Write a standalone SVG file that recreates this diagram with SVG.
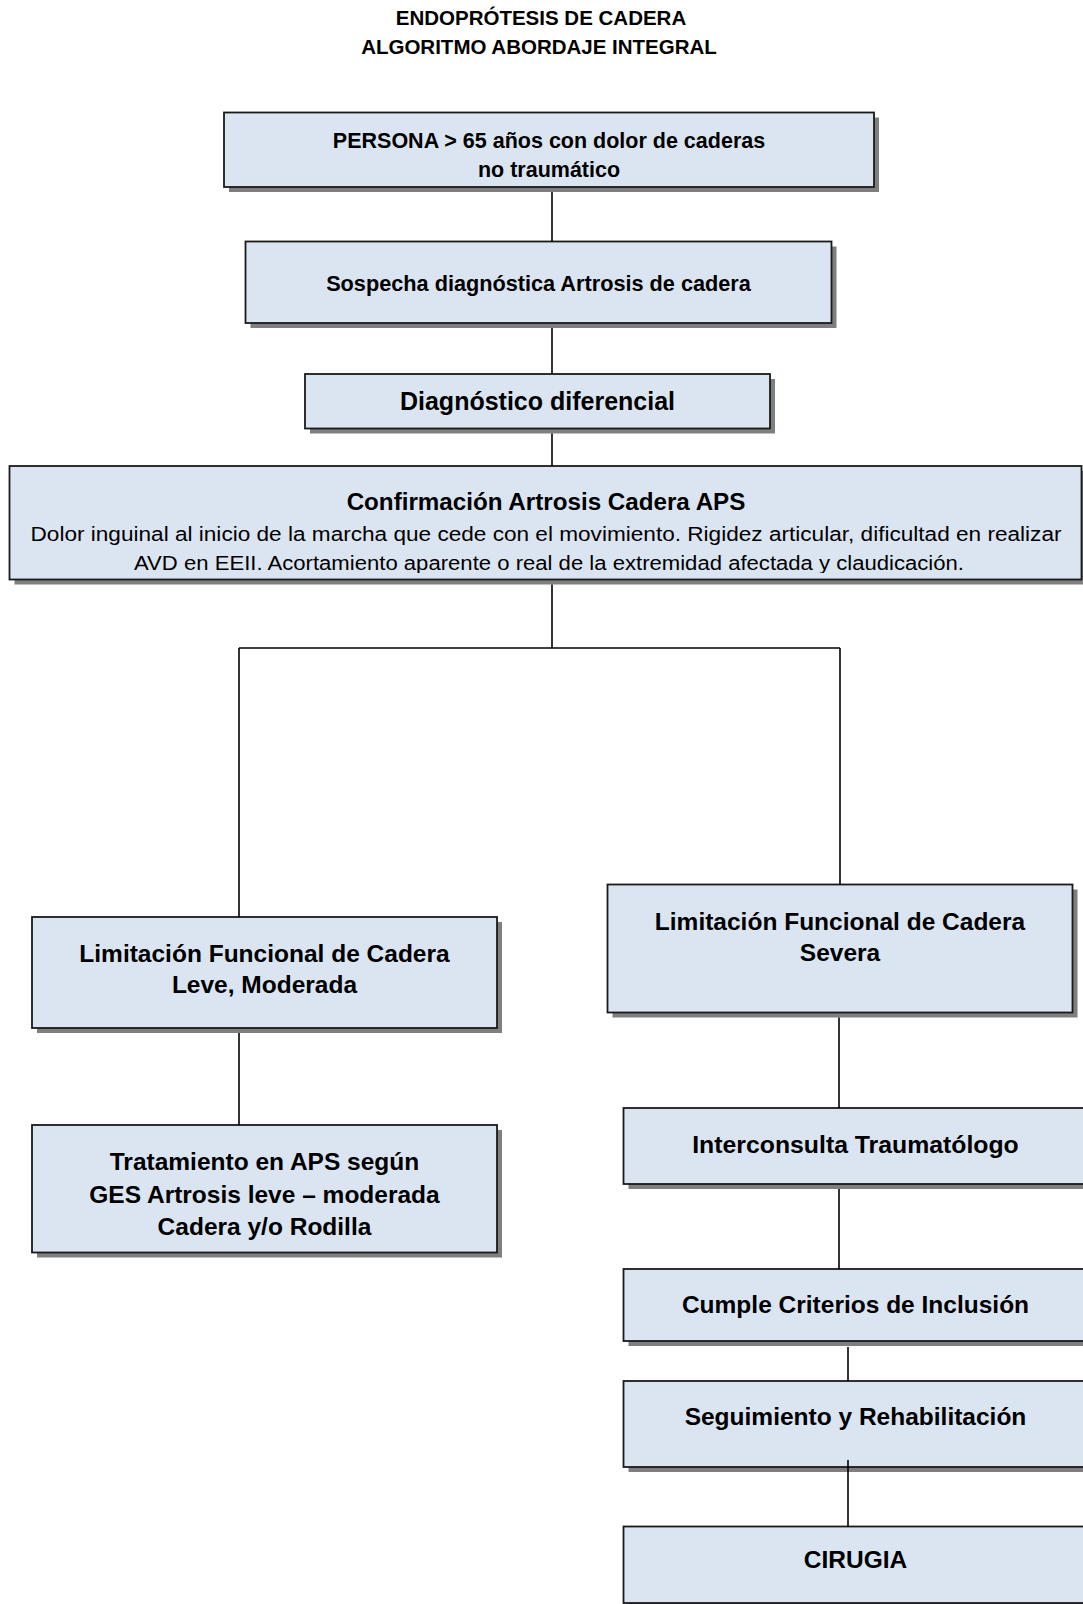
<svg xmlns="http://www.w3.org/2000/svg" width="1083" height="1604" viewBox="0 0 1083 1604">
<style>
.box{fill:#dbe5f1;stroke:#1a1a1a;stroke-width:1.8}
.shadow{fill:#7f7f7f}
.t{font-family:"Liberation Sans",Arial,sans-serif;font-weight:bold;text-anchor:middle;fill:#000}
.r{font-family:"Liberation Sans",Arial,sans-serif;font-weight:normal;text-anchor:middle;fill:#000}
.conn line{stroke:#000;stroke-width:1.6}
</style>
<defs>
<clipPath id="clip4"><rect x="10" y="467" width="1072" height="106"/></clipPath>
</defs>
<rect width="1083" height="1604" fill="#fff"/>
<g id="title">
<text class="t" x="541" y="25" font-size="20.5">ENDOPRÓTESIS DE CADERA</text>
<text class="t" x="539" y="54" font-size="20.5">ALGORITMO ABORDAJE INTEGRAL</text>
</g>
<g id="n1">
<rect class="shadow" x="229" y="117.5" width="650" height="74.5"/>
<rect class="box" x="224" y="112.5" width="650" height="74.5"/>
<text class="t" x="549" y="148" font-size="21.5">PERSONA &gt; 65 años con dolor de caderas</text>
<text class="t" x="549" y="177" font-size="21.5">no traumático</text>
</g>
<g id="n2">
<rect class="shadow" x="250.5" y="246.5" width="586" height="81.5"/>
<rect class="box" x="245.5" y="241.5" width="586" height="81.5"/>
<text class="t" x="538.5" y="291" font-size="21.7">Sospecha diagnóstica Artrosis de cadera</text>
</g>
<g id="n3">
<rect class="shadow" x="310" y="379" width="465" height="54.5"/>
<rect class="box" x="305" y="374" width="465" height="54.5"/>
<text class="t" x="537.5" y="410" font-size="25">Diagnóstico diferencial</text>
</g>
<g id="n4">
<rect class="shadow" x="14.5" y="471" width="1075" height="113.5"/>
<rect class="box" x="9.5" y="466" width="1072" height="113.5"/>
<text class="t" x="546" y="510" font-size="24.2">Confirmación Artrosis Cadera APS</text>
<g clip-path="url(#clip4)">
<text class="r" x="546" y="541" font-size="20" textLength="1031" lengthAdjust="spacingAndGlyphs">Dolor inguinal al inicio de la marcha que cede con el movimiento. Rigidez articular, dificultad en realizar</text>
<text class="r" x="549" y="570" font-size="20" textLength="830" lengthAdjust="spacingAndGlyphs">AVD en EEII. Acortamiento aparente o real de la extremidad afectada y claudicación.</text>
</g>
</g>
<g id="nA">
<rect class="shadow" x="37" y="922" width="465" height="111"/>
<rect class="box" x="32" y="917" width="465" height="111"/>
<text class="t" x="264.5" y="962" font-size="24.5">Limitación Funcional de Cadera</text>
<text class="t" x="264.5" y="993" font-size="24.5">Leve, Moderada</text>
</g>
<g id="nB">
<rect class="shadow" x="37" y="1130" width="465" height="127.5"/>
<rect class="box" x="32" y="1125" width="465" height="127.5"/>
<text class="t" x="264.5" y="1170" font-size="24.5">Tratamiento en APS según</text>
<text class="t" x="264.5" y="1203" font-size="24.5">GES Artrosis leve – moderada</text>
<text class="t" x="264.5" y="1235" font-size="24.5">Cadera y/o Rodilla</text>
</g>
<g id="nC">
<rect class="shadow" x="612.5" y="889.5" width="465" height="128"/>
<rect class="box" x="607.5" y="884.5" width="465" height="128"/>
<text class="t" x="840" y="930" font-size="24.5">Limitación Funcional de Cadera</text>
<text class="t" x="840" y="961" font-size="24.5">Severa</text>
</g>
<g id="nD">
<rect class="shadow" x="628.5" y="1113" width="465" height="76"/>
<rect class="box" x="623.5" y="1108" width="465" height="76"/>
<text class="t" x="855.5" y="1153" font-size="24.8">Interconsulta Traumatólogo</text>
</g>
<g id="nE">
<rect class="shadow" x="628.5" y="1274" width="465" height="72"/>
<rect class="box" x="623.5" y="1269" width="465" height="72"/>
<text class="t" x="855.5" y="1313" font-size="24.5">Cumple Criterios de Inclusión</text>
</g>
<g id="nF">
<rect class="shadow" x="628.5" y="1386" width="465" height="86"/>
<rect class="box" x="623.5" y="1381" width="465" height="86"/>
<text class="t" x="855.5" y="1425" font-size="24.5">Seguimiento y Rehabilitación</text>
</g>
<g id="nG">
<rect class="shadow" x="628.5" y="1531.5" width="465" height="76.5"/>
<rect class="box" x="623.5" y="1526.5" width="465" height="76.5"/>
<text class="t" x="855.5" y="1568" font-size="24.5">CIRUGIA</text>
</g>
<g id="connectors" class="conn">
<line x1="552" y1="192" x2="552" y2="241.5"/>
<line x1="552" y1="328" x2="552" y2="374"/>
<line x1="552" y1="433.5" x2="552" y2="466"/>
<line x1="552" y1="584.5" x2="552" y2="648"/>
<line x1="239" y1="648" x2="840" y2="648"/>
<line x1="239" y1="648" x2="239" y2="917"/>
<line x1="840" y1="648" x2="840" y2="884.5"/>
<line x1="239" y1="1033" x2="239" y2="1125"/>
<line x1="839" y1="1017.5" x2="839" y2="1108"/>
<line x1="839" y1="1189" x2="839" y2="1269"/>
<line x1="848" y1="1347" x2="848" y2="1381"/>
<line x1="848" y1="1460" x2="848" y2="1526.5"/>
</g>
</svg>
